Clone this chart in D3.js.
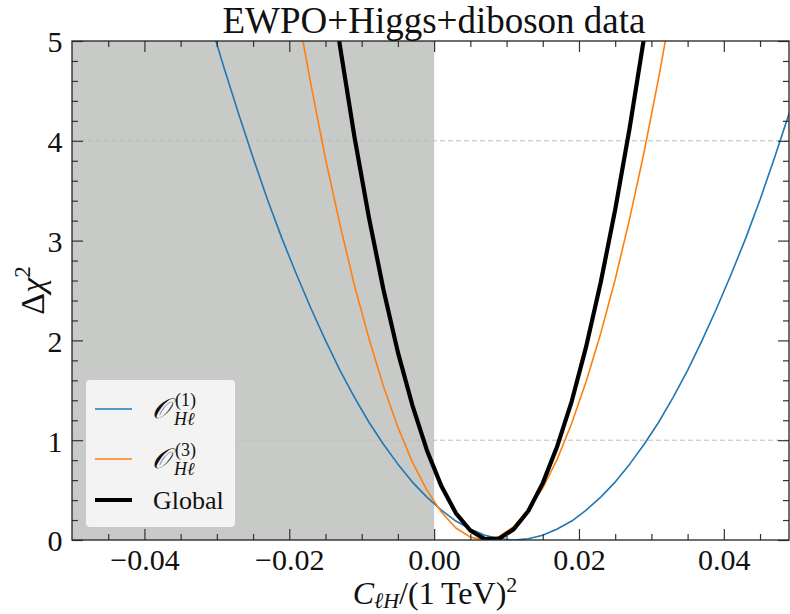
<!DOCTYPE html>
<meta charset="utf-8">
<head>
  <style>
    body { margin: 0; background: white; }
    text { font-family: "Liberation Serif", "DejaVu Serif", serif; fill: #111; }
    .tick line { stroke: #333; stroke-width: 1.2; }
    .domain { display: none; }
  </style>
</head>
<script src="https://d3js.org/d3.v7.min.js"></script>
<div id="chart"></div>
<script>
// plot box, in pixels
const W = 790, H = 614;
const margin = {left: 72, right: 1, top: 41, bottom: 74};

// curves (delta chi^2 against C_lH)
const blueX = [-0.033, -0.031, -0.029, -0.027, -0.025, -0.023, -0.021, -0.019, -0.017, -0.015,
  -0.013, -0.011, -0.009, -0.007, -0.005, -0.003, -0.001, 0.001, 0.003, 0.005, 0.007, 0.009,
  0.011, 0.013, 0.015, 0.017, 0.019, 0.021, 0.023, 0.025, 0.027, 0.029, 0.031, 0.033, 0.035,
  0.037, 0.039, 0.041, 0.043, 0.045, 0.047, 0.049, 0.051];
const blueY = [5.72, 5.21, 4.73, 4.27, 3.83, 3.41, 3.02, 2.66, 2.32, 2.00,
  1.70, 1.43, 1.18, 0.96, 0.76, 0.58, 0.43, 0.30, 0.19, 0.11, 0.047, 0.012,
  0.0, 0.012, 0.047, 0.11, 0.19, 0.30, 0.43, 0.58, 0.76, 0.96, 1.18, 1.43, 1.70,
  2.00, 2.32, 2.66, 3.02, 3.41, 3.83, 4.27, 4.73];

const orangeX = [-0.019, -0.017, -0.015, -0.013, -0.011, -0.009, -0.007, -0.005, -0.003, -0.001,
  0.001, 0.003, 0.005, 0.007, 0.009, 0.011, 0.013, 0.015, 0.017, 0.019, 0.021, 0.023,
  0.025, 0.027, 0.029, 0.031, 0.033];
const orangeY = [5.35, 4.56, 3.82, 3.16, 2.55, 2.02, 1.54, 1.13, 0.78, 0.50,
  0.28, 0.12, 0.029, 0.0, 0.035, 0.134, 0.30, 0.52, 0.81, 1.17, 1.59, 2.07,
  2.61, 3.22, 3.89, 4.63, 5.43];

const globalX = [-0.015, -0.013, -0.011, -0.009, -0.007, -0.005, -0.003, -0.001, 0.001, 0.003,
  0.005, 0.007, 0.009, 0.011, 0.013, 0.015, 0.017, 0.019, 0.021, 0.023, 0.025, 0.027,
  0.029, 0.031];
const globalY = [5.94, 4.95, 4.04, 3.23, 2.51, 1.88, 1.35, 0.90, 0.54, 0.27,
  0.095, 0.009, 0.014, 0.109, 0.29, 0.57, 0.94, 1.39, 1.94, 2.58, 3.31, 4.13,
  5.04, 6.04];

const xMajor = [-0.04, -0.02, 0.0, 0.02, 0.04];
const xLabels = ["\u22120.04", "\u22120.02", "0.00", "0.02", "0.04"];
const yMajor = [0, 1, 2, 3, 4, 5];
const gridLevels = [1, 4];
const excludedRange = [-0.05, 0.0];

const SERIF = "Liberation Serif, DejaVu Serif, serif";

const x = d3.scaleLinear().domain([-0.05, 0.049]).range([margin.left, W - margin.right]);
const y = d3.scaleLinear().domain([0, 5]).range([H - margin.bottom, margin.top]);

const svg = d3.select("#chart").append("svg")
  .attr("width", W)
  .attr("height", H);

svg.append("defs").append("clipPath").attr("id", "clip")
  .append("rect")
  .attr("x", margin.left).attr("y", margin.top)
  .attr("width", x.range()[1] - margin.left)
  .attr("height", y.range()[0] - margin.top);

const plot = svg.append("g").attr("clip-path", "url(#clip)");

// shaded region
plot.append("rect")
  .attr("x", x(excludedRange[0]))
  .attr("y", margin.top)
  .attr("width", x(excludedRange[1]) - x(excludedRange[0]))
  .attr("height", y(0) - y(5))
  .attr("fill", "#c8cac7");

// dashed grid lines
plot.selectAll(".grid")
  .data(gridLevels)
  .enter().append("line")
  .attr("x1", margin.left).attr("x2", W - margin.right)
  .attr("y1", d => y(d)).attr("y2", d => y(d))
  .attr("stroke", "#bdbdbd")
  .attr("stroke-width", 1)
  .attr("stroke-dasharray", "5,3");

const line = d3.line().x(d => x(d[0])).y(d => y(d[1]));

const series = [
  {xs: blueX, ys: blueY, color: "#1f77b4", width: 1.6},
  {xs: orangeX, ys: orangeY, color: "#ff7f0e", width: 1.6},
  {xs: globalX, ys: globalY, color: "#000000", width: 4.2}
];

series.forEach(s => {
  plot.append("path")
    .datum(d3.zip(s.xs, s.ys))
    .attr("d", line)
    .attr("fill", "none")
    .attr("stroke", s.color)
    .attr("stroke-width", s.width)
    .attr("stroke-linejoin", "round");
});

// axes with inward ticks
const xMinor = d3.range(-0.045, 0.049, 0.005).filter(v => !xMajor.some(m => Math.abs(m - v) < 1e-9));
const yMinor = d3.range(0.2, 5, 0.2).filter(v => !yMajor.some(m => Math.abs(m - v) < 1e-9));

function drawAxis(axisFn, scale, pos, values, size, labels) {
  const a = axisFn(scale).tickValues(values).tickSize(-size).tickPadding(8);
  if (labels) a.tickFormat((d, i) => labels[i]); else a.tickFormat("");
  return svg.append("g").attr("transform", pos).call(a).attr("font-family", SERIF);
}

const posBottom = `translate(0,${y(0)})`;
const posTop = `translate(0,${margin.top})`;
const posLeft = `translate(${margin.left},0)`;
const posRight = `translate(${W - margin.right},0)`;

drawAxis(d3.axisBottom, x, posBottom, xMinor, 6);
drawAxis(d3.axisBottom, x, posBottom, xMajor, 11, xLabels)
  .selectAll("text").attr("font-size", 30).attr("dy", "0.72em");
drawAxis(d3.axisTop, x, posTop, xMinor, 6);
drawAxis(d3.axisTop, x, posTop, xMajor, 11);
drawAxis(d3.axisLeft, y, posLeft, yMinor, 6);
drawAxis(d3.axisLeft, y, posLeft, yMajor, 11, yMajor.map(String))
  .selectAll("text").attr("font-size", 30).attr("dx", "-0.05em").attr("dy", "0.36em");
drawAxis(d3.axisRight, y, posRight, yMinor, 6);
drawAxis(d3.axisRight, y, posRight, yMajor, 11);

// frame
svg.append("rect")
  .attr("x", margin.left).attr("y", margin.top)
  .attr("width", x.range()[1] - margin.left)
  .attr("height", y(0) - margin.top)
  .attr("fill", "none")
  .attr("stroke", "#222")
  .attr("stroke-width", 1.3);

// title
svg.append("text")
  .attr("x", 434).attr("y", 33)
  .attr("text-anchor", "middle")
  .attr("font-size", 37)
  .text("EWPO+Higgs+diboson data");

// x label
const xl = svg.append("text")
  .attr("x", 435).attr("y", 604)
  .attr("text-anchor", "middle")
  .attr("font-size", 32);
xl.append("tspan").attr("font-style", "italic").text("C");
xl.append("tspan").attr("font-style", "italic").attr("font-size", 22).attr("dy", 4).text("\u2113H");
xl.append("tspan").attr("dy", -4).text("/(1\u2009TeV)");
xl.append("tspan").attr("font-size", 22).attr("dy", -12).text("2");

// y label
const yl = svg.append("text")
  .attr("transform", `translate(44,${(margin.top + y(0)) / 2}) rotate(-90)`)
  .attr("text-anchor", "middle")
  .attr("font-size", 34);
yl.append("tspan").text("\u0394");
yl.append("tspan").attr("font-style", "italic").text("\u03c7");
yl.append("tspan").attr("font-size", 23).attr("dy", -14).text("2");

// legend
const legend = svg.append("g");
legend.append("rect")
  .attr("x", 86).attr("y", 380)
  .attr("width", 149).attr("height", 147)
  .attr("rx", 4)
  .attr("fill", "#f3f3f3");

const legendItems = [
  {color: "#1f77b4", width: 1.6, sup: "(1)", cy: 409},
  {color: "#ff7f0e", width: 1.6, sup: "(3)", cy: 459},
  {color: "#000000", width: 4.2, label: "Global", cy: 500}
];

legendItems.forEach(it => {
  legend.append("line")
    .attr("x1", 95).attr("x2", 132)
    .attr("y1", it.cy).attr("y2", it.cy)
    .attr("stroke", it.color)
    .attr("stroke-width", it.width);
  if (it.label) {
    legend.append("text")
      .attr("x", 153).attr("y", it.cy + 9)
      .attr("font-size", 26)
      .text(it.label);
  } else {
    legend.append("text")
      .attr("x", 152).attr("y", it.cy + 9)
      .attr("font-size", 28)
      .attr("font-style", "italic")
      .text("\ud835\udcaa");
    legend.append("text")
      .attr("x", 175).attr("y", it.cy - 3)
      .attr("font-size", 18)
      .text(it.sup);
    legend.append("text")
      .attr("x", 174).attr("y", it.cy + 16)
      .attr("font-size", 18)
      .attr("font-style", "italic")
      .text("H\u2113");
  }
});
</script>
